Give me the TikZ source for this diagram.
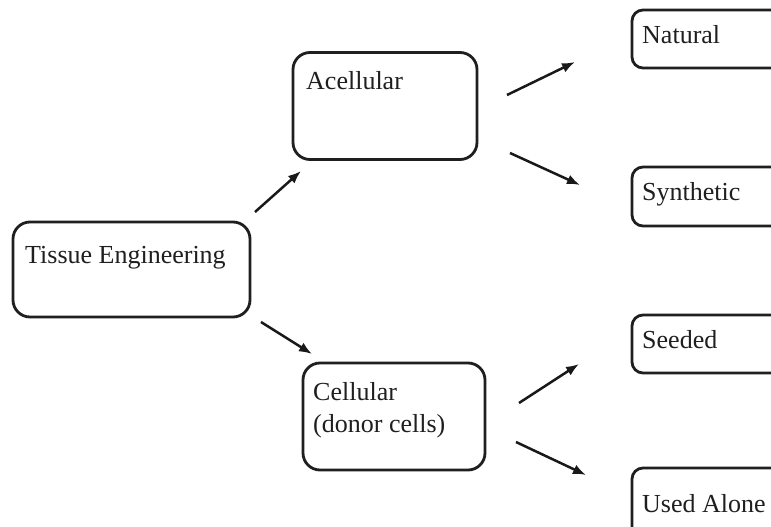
\documentclass[tikz,border=0pt]{standalone}
\usepackage{fontspec}
\setmainfont{Liberation Serif}
\usetikzlibrary{arrows.meta}
\begin{document}
\begin{tikzpicture}[x=1pt,y=-1pt,
  bigbox/.style={draw=black!88, line width=2.8pt, rounded corners=17pt, inner sep=0pt},
  smallbox/.style={draw=black!88, line width=2.8pt, rounded corners=11pt, inner sep=0pt},
  lbl/.style={inner sep=0pt, anchor=base west, text=black!88, font=\fontsize{26}{31}\selectfont},
  arr/.style={draw=black!90, line width=2.5pt, -{Latex[length=13pt,width=10pt]}}]
\useasboundingbox (0,0) rectangle (771,527);
\clip (0,0) rectangle (771,527);
\fill[white] (0,0) rectangle (771,527);
% boxes
\node[bigbox, minimum width=237pt, minimum height=95pt] (te) at (131.5,269.5) {};
\node[bigbox, minimum width=184pt, minimum height=107pt] (ac) at (385,106) {};
\node[bigbox, minimum width=182pt, minimum height=107pt] (ce) at (394,416.5) {};
\node[smallbox, minimum width=200pt, minimum height=58pt] (na) at (732,39) {};
\node[smallbox, minimum width=200pt, minimum height=59pt] (sy) at (732,196.5) {};
\node[smallbox, minimum width=200pt, minimum height=58pt] (se) at (732,344) {};
\node[smallbox, minimum width=200pt, minimum height=72pt] (ua) at (732,504) {};
% labels
\node[lbl] (te-t) at (25,263) {Tissue Engineering};
\node[lbl] (ac-t) at (306,89) {Acellular};
\node[lbl] (ce-t1) at (313,400) {Cellular};
\node[lbl] (ce-t2) at (313,432) {(donor cells)};
\node[lbl] (na-t) at (642,44) {Natural};
\node[lbl] (sy-t) at (642,200) {Synthetic};
\node[lbl] (se-t) at (642,348) {Seeded};
\node[lbl] (ua-t) at (642,512) {Used Alone};
% arrow ends
\coordinate (a1s) at (255,212); \coordinate (a1e) at (301,171);
\coordinate (a2s) at (261,322); \coordinate (a2e) at (312,354);
\coordinate (a3s) at (507,95);  \coordinate (a3e) at (575,62);
\coordinate (a4s) at (510,153); \coordinate (a4e) at (580,185);
\coordinate (a5s) at (519,403); \coordinate (a5e) at (579,364);
\coordinate (a6s) at (516,442); \coordinate (a6e) at (586,475);
\draw[arr] (a1s) -- (a1e);
\draw[arr] (a2s) -- (a2e);
\draw[arr] (a3s) -- (a3e);
\draw[arr] (a4s) -- (a4e);
\draw[arr] (a5s) -- (a5e);
\draw[arr] (a6s) -- (a6e);
\end{tikzpicture}
\end{document}
